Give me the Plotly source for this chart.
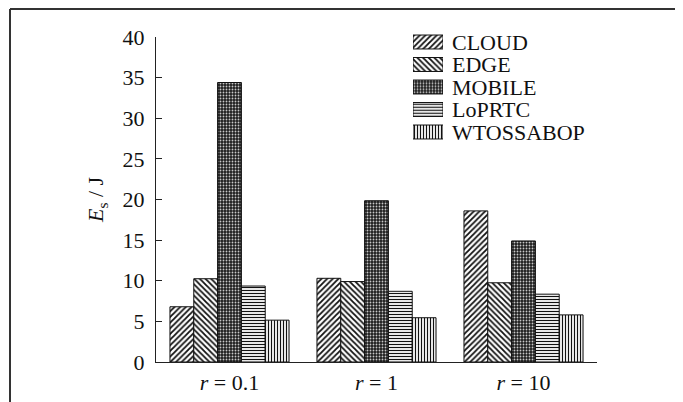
import plotly.graph_objects as go

# ---- data ----
categories = ["r = 0.1", "r = 1", "r = 10"]
tick_labels = ["<i>r</i> = 0.1", "<i>r</i> = 1", "<i>r</i> = 10"]
series_names = ["CLOUD", "EDGE", "MOBILE", "LoPRTC", "WTOSSABOP"]
cloud = [6.8, 10.3, 18.6]
edge = [10.25, 9.9, 9.75]
mobile = [34.4, 19.85, 14.9]
loprtc = [9.35, 8.7, 8.35]
wtossabop = [5.15, 5.45, 5.8]
y_ticks = [0, 5, 10, 15, 20, 25, 30, 35, 40]

series_values = [cloud, edge, mobile, loprtc, wtossabop]

# ---- styles ----
pat_shape = ["/", "\\", ".", "-", "|"]
pat_fg = ["#111111", "#111111", "#c8c8c8", "#111111", "#111111"]
pat_bg = ["#ffffff", "#ffffff", "#1e1e1e", "#ffffff", "#ffffff"]
pat_size = [4, 4, 3, 3, 3]
pat_sol = [0.45, 0.45, 0.3, 0.4, 0.4]

FONT = "Liberation Serif, Times New Roman, serif"
OFF = 8  # page body margin offset
W, H = 683 - OFF, 402 - OFF
ML, MR, MT, MB = 156 - OFF, 86, 20 - OFF, 40
PW, PH = W - ML - MR, H - MT - MB
REF_B = 362  # reference pixel y of plot bottom
REF_L = 156  # reference pixel x of plot left

def px_x(x):
    return (x - REF_L) / PW

def px_y(y):
    return (REF_B - y) / PH

def marker_for(i):
    return dict(
        color=pat_bg[i],
        line=dict(color="#111111", width=1),
        pattern=dict(shape=pat_shape[i], fgcolor=pat_fg[i], bgcolor=pat_bg[i],
                     size=pat_size[i], solidity=pat_sol[i], fillmode="replace"),
    )

fig = go.Figure()

for i, name in enumerate(series_names):
    fig.add_trace(go.Bar(
        x=categories, y=series_values[i], name=name, showlegend=False,
        marker=marker_for(i), xaxis="x", yaxis="y",
    ))

# legend swatches drawn as bars on an overlay axis
for i, name in enumerate(series_names):
    fig.add_trace(go.Bar(
        y=[name], x=[1], orientation="h", width=0.62, offsetgroup="legend",
        showlegend=False, hoverinfo="skip", marker=marker_for(i),
        xaxis="x2", yaxis="y2",
    ))

annotations = []
for name in series_names:
    annotations.append(dict(
        x=1, y=name, xref="x2", yref="y2", text=name, showarrow=False,
        xanchor="left", yanchor="middle", xshift=7,
        font=dict(family=FONT, size=22, color="#111111"),
    ))

annotations.append(dict(
    x=px_x(97), y=px_y(200), xref="paper", yref="paper",
    text="<i>E</i><sub>s</sub> / J", showarrow=False, textangle=-90,
    xanchor="center", yanchor="middle",
    font=dict(family=FONT, size=22, color="#111111"),
))

shapes = [
    dict(type="line", xref="paper", yref="paper", x0=px_x(10), x1=px_x(690),
         y0=px_y(9), y1=px_y(9), line=dict(color="#333333", width=2)),
    dict(type="line", xref="paper", yref="paper", x0=px_x(10), x1=px_x(10),
         y0=px_y(9), y1=px_y(410), line=dict(color="#333333", width=2)),
]

fig.update_layout(
    width=W, height=H,
    margin=dict(l=ML, r=MR, t=MT, b=MB, autoexpand=False),
    paper_bgcolor="white", plot_bgcolor="white",
    barmode="group", bargap=0.19, bargroupgap=0,
    font=dict(family=FONT, color="#111111"),
    showlegend=False,
    xaxis=dict(
        domain=[0, 1], range=[-0.5, 2.5], type="category",
        tickvals=categories, ticktext=tick_labels,
        showline=True, linecolor="#222222", linewidth=1.3,
        ticks="", showgrid=False, zeroline=False, automargin=False,
        tickfont=dict(family=FONT, size=22, color="#111111"),
        anchor="y",
    ),
    yaxis=dict(
        domain=[0, (REF_B - 37) / PH], range=[0, 40], tickvals=y_ticks,
        showline=True, linecolor="#222222", linewidth=1.3,
        ticks="inside", ticklen=6, tickwidth=1.2, tickcolor="#222222",
        showgrid=False, zeroline=False, automargin=False,
        tickfont=dict(family=FONT, size=22, color="#111111"),
        ticklabelstandoff=6,
        anchor="x",
    ),
    xaxis2=dict(
        domain=[px_x(413), px_x(443)], range=[0, 1], visible=False,
        anchor="y2", fixedrange=True, automargin=False,
    ),
    yaxis2=dict(
        domain=[px_y(143.25), px_y(30.75)], type="category",
        categoryorder="array", categoryarray=series_names,
        range=[4.5, -0.5], visible=False, anchor="x2", fixedrange=True,
        automargin=False,
    ),
    annotations=annotations,
    shapes=shapes,
)

fig.write_html("out.html")
